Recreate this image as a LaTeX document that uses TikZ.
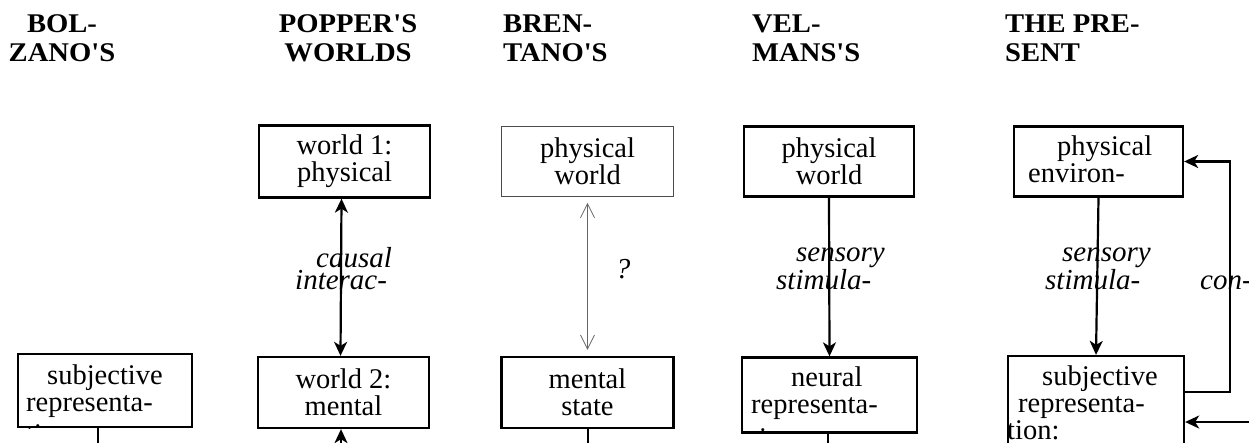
\documentclass[tikz,border=0pt]{standalone}
\usepackage{fontspec}
\setmainfont{Liberation Serif}
\newfontfamily\hdrfont[FakeStretch=1.06]{Liberation Serif}
\usepackage{tikz}
\usetikzlibrary{arrows.meta,positioning}

\begin{document}
\begin{tikzpicture}[
  x=1pt, y=-1pt,
  >={Stealth[length=14pt,width=13pt,inset=4pt]},
  head/.style={inner sep=0pt, font=\hdrfont\bfseries\fontsize{27}{28.5}\selectfont},
  box/.style={draw, line width=2.3pt, inner sep=0pt, align=center, font=\fontsize{28.5}{27}\selectfont},
  boxtxt/.style={inner sep=0pt, anchor=base west, align=left, font=\fontsize{28.5}{27}\selectfont},
  lbl/.style={inner sep=0pt, anchor=base west, align=left, font=\itshape\fontsize{29}{22}\selectfont},
  link/.style={line width=2.2pt}
]
  \useasboundingbox (0,0) rectangle (1249,442);
  \clip (0,0) rectangle (1249,442);

  % Column heads (base = last line)
  \node[head, anchor=base, align=center] (hbolz) at (62,61) {BOL-\\ZANO'S};
  \node[head, anchor=base, align=center] (hpop) at (348,61) {POPPER'S\\WORLDS};
  \node[head, anchor=base west, align=left] (hbren) at (503,61) {BREN-\\TANO'S};
  \node[head, anchor=base west, align=left] (hvel) at (752,61) {VEL-\\MANS'S};
  \node[head, anchor=base west, align=left] (hpres) at (1005,61) {THE PRE-\\SENT};

  % Upper boxes
  \node[box, minimum width=171pt, minimum height=72pt] (w1) at (344.5,161.5) {world 1:\\physical};
  \node[box, line width=0.8pt, draw=black!70, minimum width=172pt, minimum height=70pt] (bphys) at (587.5,161.5) {physical\\world};
  \node[box, minimum width=170pt, minimum height=70pt] (vphys) at (829,161.5) {physical\\world};
  \node[box, minimum width=169pt, minimum height=70pt] (penv) at (1098.5,161.5) {};

  % Lower boxes
  \node[box, minimum width=174pt, minimum height=73pt] (bsubj) at (105,390.5) {};
  \node[box, minimum width=171pt, minimum height=71pt] (w2) at (343.5,392.5) {world 2:\\mental};
  \node[box, minimum width=172pt, minimum height=71pt] (bment) at (587.5,392.5) {mental\\state};
  \node[box, minimum width=175pt, minimum height=75pt] (vneur) at (829.5,395) {};
  \node[box, minimum width=176pt, minimum height=110pt] (psubj) at (1096,411) {};

  % Box texts cut off by the frames
  \begin{scope}
    \clip (penv.north west) rectangle (penv.south east);
    \node[boxtxt] (penvtxt) at (1028,182) {\hspace*{29pt}physical\\environ-};
  \end{scope}
  \begin{scope}
    \clip (bsubj.north west) rectangle (bsubj.south east);
    \node[boxtxt] (bsubjtxt) at (26,443) {\hspace*{21pt}subjective\\representa-\\[5pt]tion};
  \end{scope}
  \begin{scope}
    \clip (vneur.north west) rectangle (vneur.south east);
    \node[boxtxt] (vneurtxt) at (751,447) {\hspace*{40pt}neural\\representa-\\[7pt]tion};
  \end{scope}
  \begin{scope}
    \clip (psubj.north west) rectangle (psubj.south east);
    \node[boxtxt] (psubjtxt) at (1007,439) {\hspace*{35pt}subjective\\\hspace*{11pt}representa-\\tion:};
  \end{scope}

  % Connectors between the rows
  \draw[link, <->] ([xshift=-3pt]w1.south) -- ([xshift=-3pt]w2.north);
  \draw[<->, line width=0.8pt, draw=black!60, >={Straight Barb[length=14pt,width=14pt]},
    shorten <=6pt, shorten >=6pt] (bphys.south) -- (bment.north);
  \draw[link, ->] (vphys.south) -- (vneur.north);
  \draw[link, ->] (penv.south) -- (psubj.north);

  % Feedback loop on the right
  \coordinate (fb) at (1230,392);
  \coordinate (inR) at (1260,422);
  \draw[link, ->] (psubj.east |- fb) -- (fb) |- (penv.east);
  \draw[link, ->] (inR) -- (psubj.east |- inR);

  % Lines running out at the bottom
  \coordinate (bolzOut) at (98,450);
  \coordinate (w2In) at (341,450);
  \coordinate (bmentOut) at (588,450);
  \coordinate (vneurOut) at (828,450);
  \draw[link] (bsubj.south -| bolzOut) -- (bolzOut);
  \draw[link, ->] (w2In) -- (w2.south -| w2In);
  \draw[link] (bment.south -| bmentOut) -- (bmentOut);
  \draw[link] (vneur.south -| vneurOut) -- (vneurOut);

  % Link labels (base = last line)
  \node[lbl] (causal) at (295,289) {\hspace*{21pt}causal\\interac-};
  \node[lbl, anchor=base] (qmark) at (623,278) {?};
  \node[lbl] (vsens) at (776,289) {\hspace*{20pt}sensory\\stimula-};
  \node[lbl] (psens) at (1045,289) {\hspace*{17pt}sensory\\stimula-};
  \node[lbl] (contr) at (1200,289) {con-};
\end{tikzpicture}
\end{document}
